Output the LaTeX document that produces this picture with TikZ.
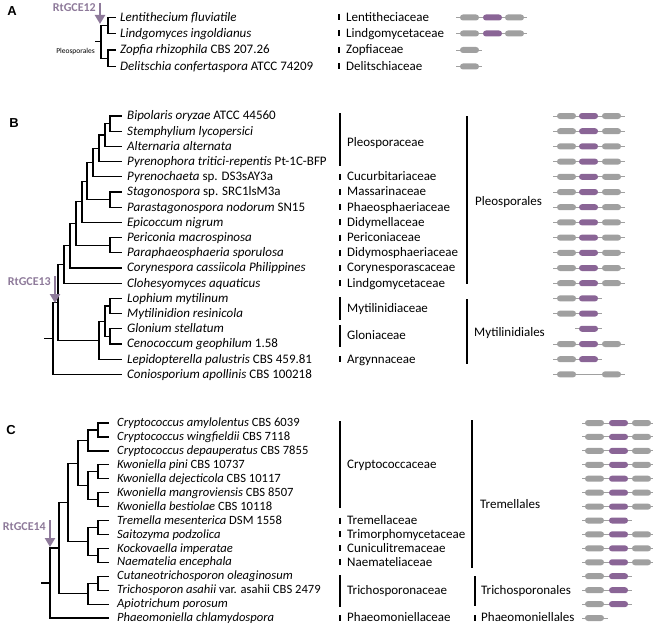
\documentclass[tikz,border=0pt]{standalone}
\usepackage{fontspec}
\setmainfont{Carlito}
\newfontfamily\arialf{Liberation Sans}
\usetikzlibrary{arrows.meta}
\definecolor{gg}{HTML}{A0A0A0}
\definecolor{pp}{HTML}{8A6596}
\definecolor{ap}{HTML}{8E7A9A}
\newcommand\gn[3]{\fill[#1,rounded corners=2.9pt] (#2,#3-3) rectangle ++(19,6);}
\newcommand\gl[3]{\draw[gg,line width=0.9pt] (#1,#3) -- (#2,#3);}
\begin{document}
\begin{tikzpicture}[x=1pt,y=-1pt,
  tr/.style={line width=1.2pt,line cap=rect},
  lf/.style={anchor=base west,inner sep=0pt,yshift=-3.8pt,font=\fontsize{13}{15}\selectfont},
  lfc/.style={anchor=base west,inner sep=0pt,yshift=-3.6pt,font=\fontsize{12.6}{15}\selectfont},
  fam/.style={anchor=base west,inner sep=0pt,yshift=-3.8pt,font=\fontsize{13}{15}\selectfont},
  bar/.style={line width=1.8pt},
  garrow/.style={ap,line width=2.2pt,-{Triangle[width=10pt,length=9pt]}},
  glab/.style={ap,anchor=east,inner sep=0pt,font=\fontsize{12}{14}\selectfont\bfseries},
  plab/.style={anchor=center,inner sep=0pt,font=\arialf\fontsize{13}{15}\selectfont\bfseries}]
\useasboundingbox (0,0) rectangle (653,626);
% ================= Panel A =================
\node[plab] (pA) at (12,11) {A};
\node[glab] (gA) at (96,8) {RtGCE12};
\coordinate (gAs) at (100,3);
\coordinate (gAe) at (100,24);
\draw[garrow] (gAs) -- (gAe);
\foreach \i/\y/\t in {1/17.5/{\textit{Lentithecium fluviatile}},
                      2/33.5/{\textit{Lindgomyces ingoldianus}},
                      3/50/{\textit{Zopfia rhizophila} CBS 207.26},
                      4/66.5/{\textit{Delitschia confertaspora} ATCC 74209}}{
  \coordinate (at\i) at (115,\y);
  \node[lf] (al\i) at (120,\y) {\t};
}
\coordinate (aN1) at (108,25.5);
\coordinate (aN2) at (108,58.25);
\coordinate (aR) at (101,41.9);
\coordinate (aRt) at (96,41.9);
\draw[tr] (aN1) |- (at1) (aN1) |- (at2) (aN2) |- (at3) (aN2) |- (at4)
          (aR) |- (aN1) (aR) |- (aN2) (aRt) -- (aR);
\node[anchor=east,inner sep=0pt,font=\fontsize{7.5}{9}\selectfont] (aPl) at (95,52) {Pleosporales};
\foreach \i/\y/\t in {1/17.5/Lentitheciaceae,2/33.5/Lindgomycetaceae,3/50/Zopfiaceae,4/66.5/Delitschiaceae}{
  \draw[bar] (339,\y-3) -- (339,\y+3);
  \node[fam] (af\i) at (346,\y) {\t};
}
\foreach \y in {17.5,33.5}{\gl{456}{527}{\y}\gn{gg}{460}{\y}\gn{pp}{483}{\y}\gn{gg}{505}{\y}}
\foreach \y in {50,66.5}{\gl{456}{482}{\y}\gn{gg}{460}{\y}}
% ================= Panel B =================
\node[plab] (pB) at (14,123) {B};
\foreach \i/\y/\t in {0/116/{\textit{Bipolaris oryzae} ATCC 44560},
  1/131.2/{\textit{Stemphylium lycopersici}},
  2/146.4/{\textit{Alternaria alternata}},
  3/161.6/{\textit{Pyrenophora tritici-repentis} Pt-1C-BFP},
  4/176.8/{\textit{Pyrenochaeta} sp. DS3sAY3a},
  5/192/{\textit{Stagonospora} sp. SRC1lsM3a},
  6/207.2/{\textit{Parastagonospora nodorum} SN15},
  7/222.4/{\textit{Epicoccum nigrum}},
  8/237.6/{\textit{Periconia macrospinosa}},
  9/252.8/{\textit{Paraphaeosphaeria sporulosa}},
  10/268/{\textit{Corynespora cassiicola Philippines}},
  11/283.2/{\textit{Clohesyomyces aquaticus}},
  12/298.4/{\textit{Lophium mytilinum}},
  13/313.6/{\textit{Mytilinidion resinicola}},
  14/328.8/{\textit{Glonium stellatum}},
  15/344/{\textit{Cenococcum geophilum} 1.58},
  16/359.2/{\textit{Lepidopterella palustris} CBS 459.81},
  17/374.4/{\textit{Coniosporium apollinis} CBS 100218}}{
  \coordinate (bt\i) at (121,\y);
  \node[lf] (bl\i) at (127,\y) {\t};
}
\coordinate (bBS) at (110,123.6);
\coordinate (bBSA) at (105,135);
\coordinate (bP) at (99,148.3);
\coordinate (bPc) at (93,162.55);
\coordinate (bSt) at (110,199.6);
\coordinate (bPS) at (87,181.1);
\coordinate (bE) at (82,201.75);
\coordinate (bPe) at (110,245.2);
\coordinate (bEP) at (76,223.5);
\coordinate (bCo) at (70,245.7);
\coordinate (bCl) at (64,264.5);
\coordinate (bLM) at (110,306);
\coordinate (bGC) at (110,336.4);
\coordinate (bLG) at (105,321.2);
\coordinate (bLep) at (99,340.2);
\coordinate (b13) at (58,302.3);
\coordinate (bR) at (53,338.4);
\coordinate (bRt) at (45,338.4);
\draw[tr] (bBS) |- (bt0) (bBS) |- (bt1) (bBSA) |- (bBS) (bBSA) |- (bt2)
  (bP) |- (bBSA) (bP) |- (bt3) (bPc) |- (bP) (bPc) |- (bt4)
  (bSt) |- (bt5) (bSt) |- (bt6) (bPS) |- (bPc) (bPS) |- (bSt)
  (bE) |- (bPS) (bE) |- (bt7) (bPe) |- (bt8) (bPe) |- (bt9)
  (bEP) |- (bE) (bEP) |- (bPe) (bCo) |- (bEP) (bCo) |- (bt10)
  (bCl) |- (bCo) (bCl) |- (bt11)
  (bLM) |- (bt12) (bLM) |- (bt13) (bGC) |- (bt14) (bGC) |- (bt15)
  (bLG) |- (bLM) (bLG) |- (bGC) (bLep) |- (bLG) (bLep) |- (bt16)
  (b13) |- (bCl) (b13) |- (bLep) (bR) |- (b13) (bR) |- (bt17) (bRt) -- (bR);
\node[glab] (gB) at (51,282) {RtGCE13};
\coordinate (gBs) at (55,276);
\coordinate (gBe) at (55,303);
\draw[garrow] (gBs) -- (gBe);
% families B
\draw[bar] (340,113) -- (340,166);
\node[fam] (bfP) at (347,143) {Pleosporaceae};
\foreach \i/\y/\t in {4/176.8/Cucurbitariaceae,5/192/Massarinaceae,6/207.2/Phaeosphaeriaceae,
  7/222.4/Didymellaceae,8/237.6/Periconiaceae,9/252.8/Didymosphaeriaceae,
  10/268/Corynesporascaceae,11/283.2/Lindgomycetaceae,16/359.2/Argynnaceae}{
  \draw[bar] (340,\y-3) -- (340,\y+3);
  \node[fam] (bf\i) at (347,\y) {\t};
}
\draw[bar] (340,297) -- (340,320);
\node[fam] (bfM) at (347,309) {Mytilinidiaceae};
\draw[bar] (340,325) -- (340,347);
\node[fam] (bfG) at (347,336) {Gloniaceae};
\draw[bar] (467,116) -- (467,284);
\node[fam] (boP) at (475,202) {Pleosporales};
\draw[bar] (467,299) -- (467,364);
\node[fam] (boM) at (474,333) {Mytilinidiales};
% genes B
\foreach \y in {116,131.2,146.4,161.6,176.8,192,207.2,222.4,237.6,252.8,268,283.2,344}{
  \gl{553}{625}{\y}\gn{gg}{557}{\y}\gn{pp}{579}{\y}\gn{gg}{602}{\y}}
\foreach \y in {298.4,313.6,359.2}{\gl{553}{602}{\y}\gn{gg}{557}{\y}\gn{pp}{579}{\y}}
\gl{575}{602}{328.8}\gn{pp}{579}{328.8}
\gl{553}{625}{374.4}\gn{gg}{557}{374.4}\gn{gg}{602}{374.4}
% ================= Panel C =================
\node[plab] (pC) at (11,430) {C};
\foreach \i/\y/\t in {0/423/{\textit{Cryptococcus amylolentus} CBS 6039},
  1/436.9/{\textit{Cryptococcus wingfieldii} CBS 7118},
  2/450.9/{\textit{Cryptococcus depauperatus} CBS 7855},
  3/464.8/{\textit{Kwoniella pini} CBS 10737},
  4/478.7/{\textit{Kwoniella dejecticola} CBS 10117},
  5/492.7/{\textit{Kwoniella mangroviensis} CBS 8507},
  6/506.6/{\textit{Kwoniella bestiolae} CBS 10118},
  7/520.5/{\textit{Tremella mesenterica} DSM 1558},
  8/534.4/{\textit{Saitozyma podzolica}},
  9/548.4/{\textit{Kockovaella imperatae}},
  10/562.3/{\textit{Naematelia encephala}},
  11/576.2/{\textit{Cutaneotrichosporon oleaginosum}},
  12/590.2/{\textit{Trichosporon asahii} var. asahii CBS 2479},
  13/604.1/{\textit{Apiotrichum porosum}},
  14/618/{\textit{Phaeomoniella chlamydospora}}}{
  \coordinate (ct\i) at (108,\y);
  \node[lfc] (cl\i) at (117,\y) {\t};
}
\coordinate (cAW) at (98,430);
\coordinate (cAWD) at (88,440.5);
\coordinate (cPD) at (98,471.8);
\coordinate (cMB) at (98,499.6);
\coordinate (cK) at (88,485.7);
\coordinate (cCK) at (78,463.1);
\coordinate (cTS) at (98,527.5);
\coordinate (cKN) at (98,555.3);
\coordinate (cTK) at (88,541.4);
\coordinate (cTr) at (68,502.3);
\coordinate (cCT) at (98,583.2);
\coordinate (cCTA) at (88,593.6);
\coordinate (cTT) at (59,548);
\coordinate (cR) at (50,583);
\coordinate (cRt) at (42,583);
\draw[tr] (cAW) |- (ct0) (cAW) |- (ct1) (cAWD) |- (cAW) (cAWD) |- (ct2)
  (cPD) |- (ct3) (cPD) |- (ct4) (cMB) |- (ct5) (cMB) |- (ct6)
  (cK) |- (cPD) (cK) |- (cMB) (cCK) |- (cAWD) (cCK) |- (cK)
  (cTS) |- (ct7) (cTS) |- (ct8) (cKN) |- (ct9) (cKN) |- (ct10)
  (cTK) |- (cTS) (cTK) |- (cKN) (cTr) |- (cCK) (cTr) |- (cTK)
  (cCT) |- (ct11) (cCT) |- (ct12) (cCTA) |- (cCT) (cCTA) |- (ct13)
  (cTT) |- (cTr) (cTT) |- (cCTA) (cR) |- (cTT) (cR) |- (ct14) (cRt) -- (cR);
\node[glab] (gC) at (46,527) {RtGCE14};
\coordinate (gCs) at (50,520);
\coordinate (gCe) at (50,547);
\draw[garrow] (gCs) -- (gCe);
% families C
\draw[bar] (340,421) -- (340,508);
\node[fam] (cfC) at (347,465) {Cryptococcaceae};
\foreach \i/\y/\t in {7/520.5/Tremellaceae,8/534.4/Trimorphomycetaceae,9/548.4/Cuniculitremaceae,
  10/562.3/Naemateliaceae,14/618/Phaeomoniellaceae}{
  \draw[bar] (340,\y-3) -- (340,\y+3);
  \node[fam] (cf\i) at (347,\y) {\t};
}
\draw[bar] (340,575) -- (340,607);
\node[fam] (cfT) at (347,591) {Trichosporonaceae};
\draw[bar] (472,420) -- (472,568);
\node[fam] (coT) at (480,505) {Tremellales};
\draw[bar] (475,576) -- (475,606);
\node[fam] (coTr) at (481,591) {Trichosporonales};
\draw[bar] (475,615) -- (475,621);
\node[fam] (coP) at (481,618) {Phaeomoniellales};
% genes C
\foreach \y in {423,436.9,450.9,464.8,478.7,492.7,506.6,534.4,548.4,562.3}{
  \gl{582}{653}{\y}\gn{gg}{585}{\y}\gn{pp}{609}{\y}\gn{gg}{632}{\y}}
\foreach \y in {520.5,576.2,590.2,604.1}{\gl{582}{632}{\y}\gn{gg}{585}{\y}\gn{pp}{609}{\y}}
\gl{582}{608}{618}\gn{gg}{585}{618}
\end{tikzpicture}
\end{document}
